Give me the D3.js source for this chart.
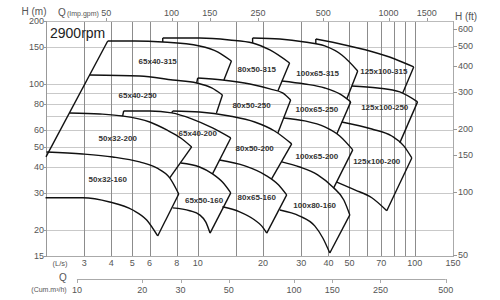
<!DOCTYPE html>
<html>
<head>
<meta charset="utf-8">
<script src="https://cdn.jsdelivr.net/npm/d3@7"></script>
<style>
body { margin: 0; background: #fff; }
</style>
</head>
<body>
<div id="chart"></div>
<script>
// pump models, flow Q in L/s, head H in m
var models = ["50x32-160", "50x32-200", "65x40-250", "65x40-315", "65x40-200", "65x50-160",
    "80x50-200", "80x65-160", "80x50-250", "80x50-315", "100x80-160", "100x65-200",
    "100x65-250", "100x65-315", "125x100-200", "125x100-250", "125x100-315"]

// max impeller curve of each model
var topCurves = [
    [[2.01,47.2],[2.95,46.2],[4.06,44.7],[5.40,42.3],[6.47,39.6],[7.43,35.5],[8.18,29.7]],
    [[2.57,72.6],[3.54,71.8],[4.51,70.2],[6.01,65.7],[7.20,60.2],[8.35,55.1],[9.38,49.9]],
    [[3.18,110.3],[5.40,109.1],[7.67,104.4],[9.89,101.0],[11.6,95.6],[13.0,88.5]],
    [[3.85,160.4],[5.13,160.4],[6.90,158.7],[10.2,151.9],[12.4,142.1],[14.3,128.7]],
    [[4.56,74.2],[6.01,74.2],[7.59,72.6],[9.38,68.0],[11.7,61.5],[14.2,55.1]],
    [[8.35,41.8],[10.2,40.0],[11.7,37.1],[13.0,33.9],[14.2,30.1]],
    [[7.67,74.2],[10.2,73.4],[14.0,70.2],[18.3,65.7],[22.6,59.5],[27.1,51.6]],
    [[12.6,43.2],[16.5,40.5],[20.4,36.7],[23.6,32.8],[25.7,29.4]],
    [[10.0,106.7],[13.0,104.4],[17.4,99.9],[21.5,94.6],[24.6,90.5],[26.8,83.8]],
    [[6.90,165.8],[10.2,165.8],[14.0,162.3],[17.9,157.0],[21.5,145.3],[26.5,125.9]],
    [[24.4,42.3],[29.5,40.0],[35.7,36.7],[41.9,32.1],[47.1,27.8],[50.2,23.6]],
    [[24.9,68.7],[31.1,66.5],[38.5,62.2],[45.1,56.3],[51.8,48.3]],
    [[24.4,103.3],[31.1,99.9],[38.5,95.6],[45.1,89.5],[50.7,82.0]],
    [[17.9,165.8],[23.9,164.0],[31.1,158.7],[38.5,151.9],[46.1,137.5],[54.6,115.3]],
    [[46.1,65.7],[63.4,60.8],[78.3,56.3],[89.0,50.5],[96.9,44.2]],
    [[51.3,97.7],[67.5,95.6],[85.3,91.5],[103,82.0]],
    [[35.0,164.0],[47.6,153.6],[62.0,143.7],[80.9,131.6],[98.9,120.5]]
]

// right edge runs from the end of the top curve to this point
var edgeEnds = [[6.54,18.7],[7.43,35.5],[12.2,72.6],[13.2,104.4],[11.7,37.1],[11.4,19.3],
    [21.9,35.1],[20.8,19.3],[23.4,58.2],[23.4,92.5],[40.6,15.5],[42.3,31.8],
    [43.7,57.6],[48.6,84.7],[74.3,24.7],[85.3,52.2],[88.0,90.5]]

// min impeller curve where it is the lower border of the chart area
var bottomCurves = [
    [[1.99,28.5],[2.95,28.5],[3.93,27.2],[5.02,24.9],[5.82,22.3],[6.54,18.7]],
    null, null, null, null,
    [[7.67,25.5],[9.19,24.7],[10.2,23.6],[10.9,21.8],[11.4,19.3]],
    null,
    [[13.0,25.8],[15.6,24.4],[18.3,22.3],[19.7,20.9],[20.8,19.3]],
    null, null,
    [[23.9,24.9],[29.5,23.3],[34.6,20.9],[37.7,18.3],[40.6,15.5]],
    null, null, null,
    [[43.7,33.9],[52.9,31.1],[63.4,28.5],[74.3,24.7]],
    null, null
]

// small step up at the start of some top curves
var stepStarts = [null, null, null, null, [4.51,70.2], null, [7.59,72.6], null, [9.89,101.0],
    [6.90,158.7], null, null, null, [17.9,157.0], null, null, [35.0,155.2]]

var leftLimit = [[2.0,44.7],[3.85,160.4]]

var labelPos = [[3.85,35.1],[4.28,55.1],[5.29,88.5],[6.54,128.7],[10,58.2],[10.7,27.8],
    [18.3,49.4],[18.7,28.8],[17.7,79.3],[18.7,117],[34.6,26.3],[35.4,45.2],
    [35.4,75.9],[35.7,113],[66.8,42.8],[72.7,77.5],[72,115]]

// axes
var hTicks = [15, 20, 30, 40, 50, 60, 80, 100, 150, 200]
var hGrid = [20, 30, 40, 50, 60, 70, 80, 90, 100, 150]
var ftTicks = [50, 100, 150, 200, 300, 400, 500, 600]
var qTicks = [3, 4, 5, 6, 8, 10, 20, 30, 40, 50, 70, 100, 150]
var qGrid = [3, 4, 5, 6, 8, 10, 15, 20, 30, 40, 50, 60, 70, 80, 90, 100]
var gpmTicks = [50, 100, 150, 250, 500, 1000, 1500]
var cumTicks = [10, 20, 30, 50, 100, 150, 250, 500]

var width = 500, height = 300
var svg = d3.select("#chart").append("svg")
    .attr("width", width)
    .attr("height", height)
    .style("font-family", "'Liberation Sans', Arial, sans-serif")

var x = d3.scaleLog().domain([2, 150]).range([46, 453])
var y = d3.scaleLog().domain([15, 200]).range([256, 21])
var xGpm = d3.scaleLog().domain([2 * 13.198, 150 * 13.198]).range([46, 453])
var xCum = d3.scaleLog().domain([2 * 3.6, 150 * 3.6]).range([46, 453])
var yFt = d3.scaleLog().domain([15 * 3.2808, 200 * 3.2808]).range([256, 21])
var px = v => Math.round(v) + 0.5

// grid
svg.append("g").selectAll("line").data(hGrid).enter().append("line")
    .attr("x1", 46).attr("x2", 453)
    .attr("y1", d => px(y(d))).attr("y2", d => px(y(d)))
    .attr("stroke", "#c9c9c9")
svg.append("g").selectAll("line").data(qGrid).enter().append("line")
    .attr("x1", d => px(x(d))).attr("x2", d => px(x(d)))
    .attr("y1", 21).attr("y2", 256)
    .attr("stroke", "#8c8c8c")

// frame
svg.append("line").attr("x1", 46).attr("x2", 453).attr("y1", 21.5).attr("y2", 21.5).attr("stroke", "#bbb")
svg.append("line").attr("x1", 46).attr("x2", 453).attr("y1", 256.5).attr("y2", 256.5).attr("stroke", "#aaa")
svg.append("line").attr("x1", 46.5).attr("x2", 46.5).attr("y1", 21).attr("y2", 257).attr("stroke", "#999")
svg.append("line").attr("x1", 453.5).attr("x2", 453.5).attr("y1", 21).attr("y2", 257).attr("stroke", "#aaa")

var axisText = "#555"

// left axis H (m)
var gl = svg.append("g")
gl.selectAll("line").data(hTicks).enter().append("line")
    .attr("x1", 44).attr("x2", 47).attr("y1", d => px(y(d))).attr("y2", d => px(y(d)))
    .attr("stroke", "#999")
gl.selectAll("text").data(hTicks).enter().append("text")
    .attr("x", 44).attr("y", d => y(d)).attr("dy", "0.35em")
    .attr("text-anchor", "end").attr("font-size", 9).attr("fill", axisText)
    .text(d => d)
svg.append("text").attr("x", 34).attr("y", 15).attr("text-anchor", "middle")
    .attr("font-size", 10).attr("fill", axisText).text("H (m)")

// right axis H (ft)
var gr = svg.append("g")
gr.selectAll("line").data(ftTicks).enter().append("line")
    .attr("x1", 453).attr("x2", 457).attr("y1", d => px(yFt(d))).attr("y2", d => px(yFt(d)))
    .attr("stroke", "#999")
gr.selectAll("text").data(ftTicks).enter().append("text")
    .attr("x", 458).attr("y", d => yFt(d)).attr("dy", "0.35em")
    .attr("font-size", 9).attr("fill", axisText)
    .text(d => d)
svg.append("text").attr("x", 466).attr("y", 20).attr("text-anchor", "middle")
    .attr("font-size", 10).attr("fill", axisText).text("H (ft)")

// top axis Q (Imp.gpm)
var gt = svg.append("g")
gt.selectAll("line").data(gpmTicks).enter().append("line")
    .attr("x1", d => px(xGpm(d))).attr("x2", d => px(xGpm(d))).attr("y1", 18).attr("y2", 21)
    .attr("stroke", "#999")
gt.selectAll("text").data(gpmTicks).enter().append("text")
    .attr("x", d => xGpm(d)).attr("y", 16)
    .attr("text-anchor", "middle").attr("font-size", 9).attr("fill", axisText)
    .text(d => d)
svg.append("text").attr("x", 58).attr("y", 16).attr("font-size", 10).attr("fill", axisText).text("Q")
svg.append("text").attr("x", 67).attr("y", 16).attr("font-size", 7).attr("fill", axisText).text("(Imp.gpm)")

// bottom axis Q (L/s)
svg.append("g").selectAll("text").data(qTicks).enter().append("text")
    .attr("x", d => x(d)).attr("y", 265.5)
    .attr("text-anchor", "middle").attr("font-size", 9).attr("fill", axisText)
    .text(d => d)
svg.append("text").attr("x", 60).attr("y", 265.5).attr("text-anchor", "middle")
    .attr("font-size", 7.5).attr("fill", axisText).text("(L/s)")

// second bottom axis Q (Cum.m3/h)
var gc = svg.append("g")
gc.append("line").attr("x1", xCum(10)).attr("x2", xCum(500)).attr("y1", 279.5).attr("y2", 279.5)
    .attr("stroke", "#aaa")
gc.selectAll("line.t").data(cumTicks).enter().append("line").attr("class", "t")
    .attr("x1", d => px(xCum(d))).attr("x2", d => px(xCum(d))).attr("y1", 279).attr("y2", 283)
    .attr("stroke", "#aaa")
gc.selectAll("text").data(cumTicks).enter().append("text")
    .attr("x", d => xCum(d)).attr("y", 293)
    .attr("text-anchor", "middle").attr("font-size", 9).attr("fill", axisText)
    .text(d => d)
svg.append("text").attr("x", 63).attr("y", 281).attr("text-anchor", "middle")
    .attr("font-size", 10).attr("fill", axisText).text("Q")
svg.append("text").attr("x", 49).attr("y", 292).attr("text-anchor", "middle")
    .attr("font-size", 7).attr("fill", axisText).text("(Cum.m³/h)")

svg.append("text").attr("x", 50).attr("y", 38)
    .attr("font-size", 14).attr("fill", "#222").text("2900rpm")

// curves
var curve = d3.line().x(d => x(d[0])).y(d => y(d[1])).curve(d3.curveMonotoneX)
var straight = d3.line().x(d => x(d[0])).y(d => y(d[1]))
var gCurves = svg.append("g").attr("fill", "none").attr("stroke", "#111")
    .attr("stroke-width", 1.4).attr("stroke-linejoin", "round")

gCurves.append("path").attr("d", straight(leftLimit))
models.forEach(function(m, i) {
    var top = topCurves[i]
    gCurves.append("path").attr("d", curve(top))
    gCurves.append("path").attr("d", straight([top[top.length - 1], edgeEnds[i]]))
    if (bottomCurves[i]) gCurves.append("path").attr("d", curve(bottomCurves[i]))
    if (stepStarts[i]) gCurves.append("path").attr("d", straight([stepStarts[i], top[0]]))
})

// model labels
svg.append("g").selectAll("text").data(models).enter().append("text")
    .attr("x", (d, i) => x(labelPos[i][0]))
    .attr("y", (d, i) => y(labelPos[i][1]))
    .attr("dy", "0.35em")
    .attr("text-anchor", "middle")
    .attr("font-size", 8)
    .attr("font-weight", "bold")
    .attr("fill", "#333")
    .text(d => d)
</script>
</body>
</html>
